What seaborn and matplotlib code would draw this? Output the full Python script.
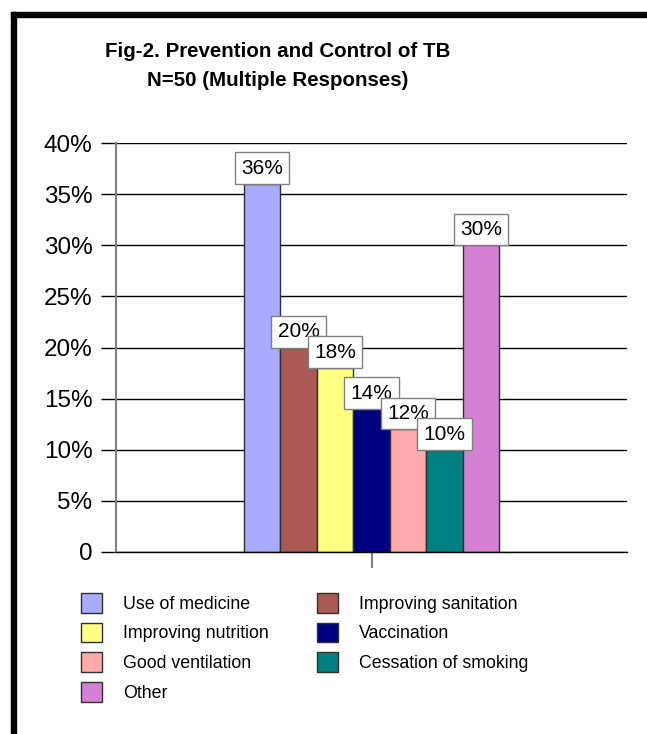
import numpy as np
import pandas as pd
import seaborn as sns
import matplotlib as mpl
mpl.use('Agg')
import matplotlib.pyplot as plt
from matplotlib.patches import Rectangle

# data
responses = ["Use of medicine", "Improving sanitation", "Improving nutrition",
             "Vaccination", "Good ventilation", "Cessation of smoking", "Other"]
percent = [36, 20, 18, 14, 12, 10, 30]
colors = ["#AAAAFF", "#A95A55", "#FFFF80", "#000080", "#FFAAAA", "#008080", "#D580D5"]
yticks = [0, 5, 10, 15, 20, 25, 30, 35, 40]
ytick_labels = ["0" if v == 0 else f"{v}%" for v in yticks]
title_lines = ["Fig-2. Prevention and Control of TB", "N=50 (Multiple Responses)"]

W, H = 647, 734
sns.set_theme(style="white")
plt.rcParams['font.family'] = ['Liberation Sans', 'DejaVu Sans']
plt.rcParams['text.color'] = 'black'
plt.rcParams['xtick.color'] = 'black'
plt.rcParams['ytick.color'] = 'black'

fig = plt.figure(figsize=(W / 100, H / 100), dpi=100)
ax = fig.add_axes([116 / W, 1 - 552 / H, (627 - 116) / W, (552 - 143) / H])

df = pd.DataFrame({"grp": [""] * len(responses), "response": responses, "pct": percent})
sns.barplot(data=df, x="grp", y="pct", hue="response", hue_order=responses,
            palette=dict(zip(responses, colors)), width=0.5, dodge=True,
            edgecolor="#303030", linewidth=1, saturation=1, legend=False, ax=ax)

ax.set_xlim(-0.5, 0.5)
ax.set_ylim(0, 40)
ax.set_yticks(yticks)
ax.set_yticklabels(ytick_labels, fontsize=17.5, color="black")
ax.set_xticks([0])
ax.set_xticklabels([""])
ax.set_xlabel("")
ax.set_ylabel("")
ax.yaxis.grid(True, color="black", linewidth=1)
ax.set_axisbelow(True)
ax.tick_params(axis="y", length=11, width=1, color="black", pad=6, left=True)
ax.tick_params(axis="x", length=11.5, width=1.5, color="#808080", bottom=True)
for side in ["top", "right"]:
    ax.spines[side].set_visible(False)
ax.spines["left"].set_color("#808080")
ax.spines["left"].set_linewidth(1.5)
ax.spines["bottom"].set_color("black")
ax.spines["bottom"].set_linewidth(1)

# value labels in white boxes
for cont, v in zip(ax.containers, percent):
    ax.bar_label(cont, labels=[f"{v}%"], padding=4.5, fontsize=15, color="black",
                 bbox=dict(boxstyle="square,pad=0.3", fc="white", ec="#808080", lw=1))

# legend filled row by row, like the original
order = [0, 2, 4, 6, 1, 3, 5]
handles = [ax.containers[i].patches[0] for i in order]
labels = [responses[i] for i in order]
fig.legend(handles, labels, loc="upper left", bbox_to_anchor=(81 / W, 1 - 593 / H),
           ncol=2, frameon=False, fontsize=12.8, borderpad=0, borderaxespad=0,
           handlelength=1.18, handleheight=1.32, handletextpad=1.18,
           labelspacing=0.56, columnspacing=2.7)

fig.text(278 / W, 1 - 57 / H, title_lines[0], ha="center", va="baseline",
         fontsize=14.8, fontweight="bold")
fig.text(278 / W, 1 - 86 / H, title_lines[1], ha="center", va="baseline",
         fontsize=14.8, fontweight="bold")

# thick black frame on the top and left edges
fig.patches.append(Rectangle((11 / W, 1 - 17 / H), 1, 5 / H, transform=fig.transFigure,
                             color="black", zorder=5))
fig.patches.append(Rectangle((11 / W, 0), 5 / W, 1 - 12 / H, transform=fig.transFigure,
                             color="black", zorder=5))

fig.savefig("out.png", dpi=100)
